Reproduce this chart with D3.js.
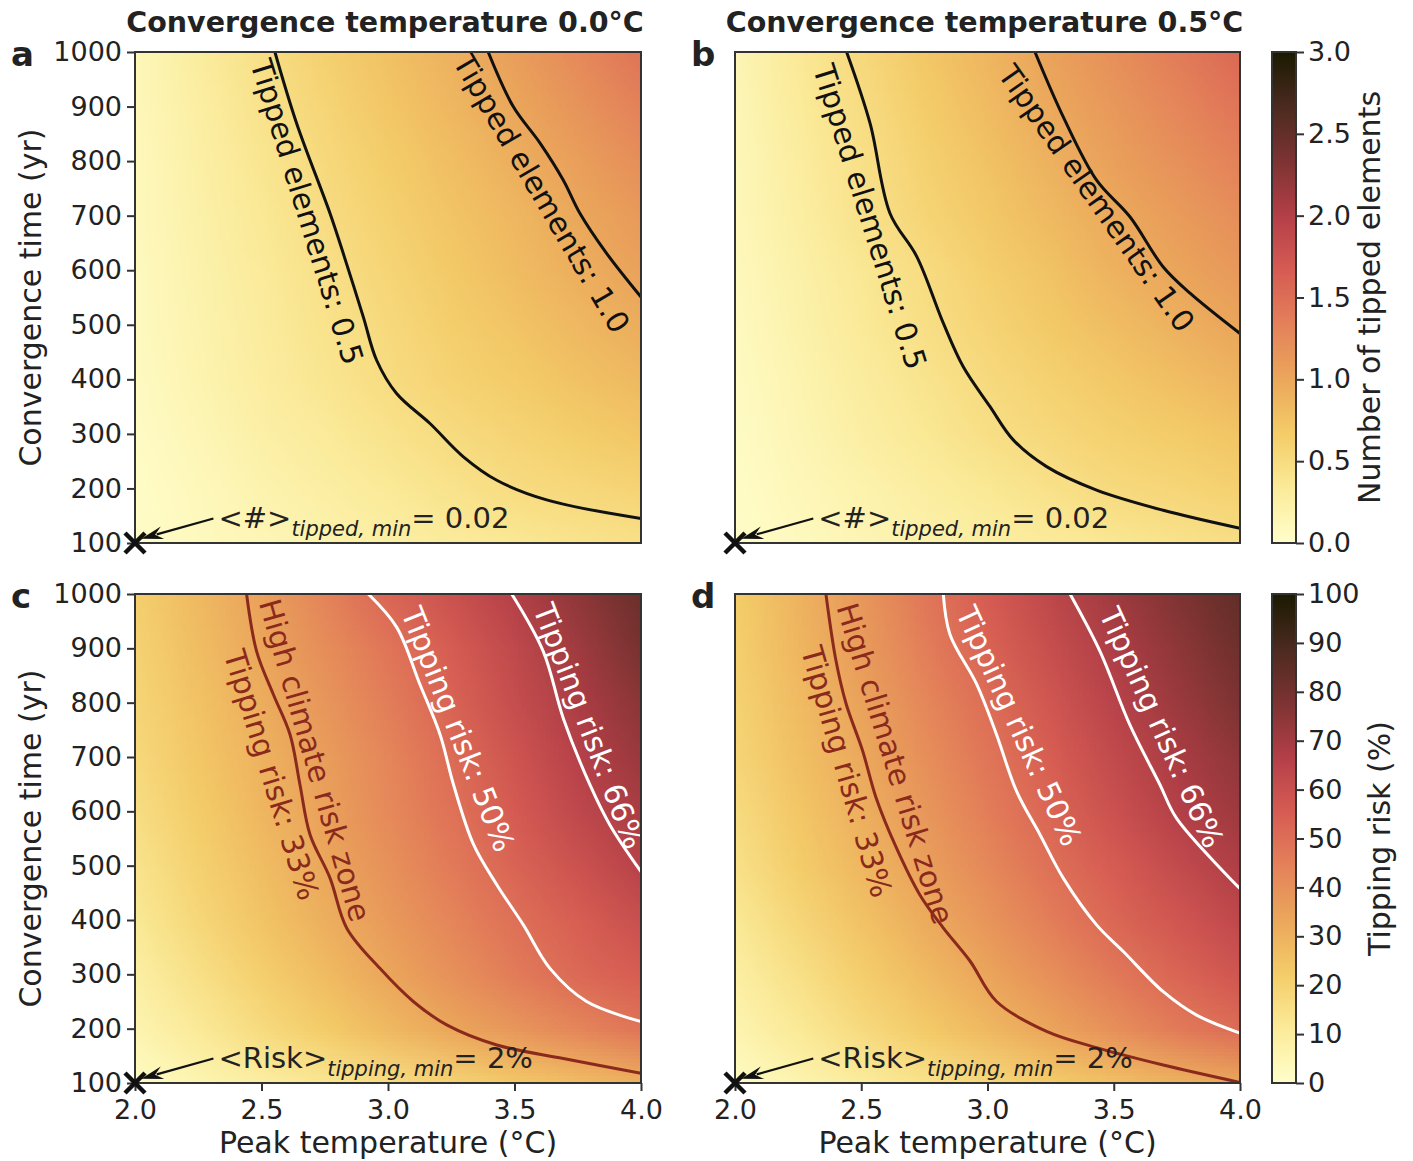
<!DOCTYPE html>
<html>
<head>
<meta charset="utf-8">
<script src="https://cdn.jsdelivr.net/npm/d3@7"></script>
<style>
  body { margin: 0; background: #fff; }
  text { font-family: "DejaVu Sans", sans-serif; }
</style>
</head>
<body>
<div id="main-chart"></div>
<script>
// ---- data ----
var temps = [2.0, 2.25, 2.5, 2.75, 3.0, 3.25, 3.5, 3.75, 4.0];
var times = [100, 200, 300, 400, 500, 600, 700, 800, 900, 1000];
var xTicks = [2.0, 2.5, 3.0, 3.5, 4.0];
var yTicks = [100, 200, 300, 400, 500, 600, 700, 800, 900, 1000];
var tippedTicks = [0, 0.5, 1.0, 1.5, 2.0, 2.5, 3.0];
var riskTicks = [0, 10, 20, 30, 40, 50, 60, 70, 80, 90, 100];

// rows = times (100 -> 1000), columns = temps
var tippedA = [
  [0.02, 0.08, 0.14, 0.20, 0.26, 0.31, 0.36, 0.41, 0.45],
  [0.035, 0.11, 0.19, 0.27, 0.34, 0.42, 0.50, 0.54, 0.58],
  [0.05, 0.14, 0.24, 0.33, 0.42, 0.51, 0.58, 0.65, 0.72],
  [0.07, 0.18, 0.29, 0.39, 0.50, 0.59, 0.67, 0.76, 0.84],
  [0.08, 0.19, 0.31, 0.42, 0.53, 0.64, 0.74, 0.85, 0.95],
  [0.09, 0.21, 0.33, 0.45, 0.57, 0.69, 0.81, 0.93, 1.04],
  [0.10, 0.23, 0.36, 0.49, 0.61, 0.74, 0.86, 0.99, 1.11],
  [0.11, 0.25, 0.39, 0.53, 0.66, 0.79, 0.93, 1.07, 1.22],
  [0.12, 0.27, 0.43, 0.57, 0.72, 0.86, 1.00, 1.17, 1.33],
  [0.13, 0.30, 0.46, 0.62, 0.77, 0.91, 1.08, 1.26, 1.45]
];
var tippedB = [
  [0.02, 0.08, 0.15, 0.21, 0.27, 0.32, 0.37, 0.42, 0.47],
  [0.035, 0.12, 0.20, 0.28, 0.36, 0.44, 0.52, 0.56, 0.61],
  [0.05, 0.15, 0.26, 0.36, 0.46, 0.54, 0.61, 0.67, 0.74],
  [0.07, 0.18, 0.30, 0.41, 0.52, 0.61, 0.70, 0.79, 0.88],
  [0.09, 0.21, 0.34, 0.46, 0.58, 0.69, 0.80, 0.91, 1.02],
  [0.10, 0.23, 0.37, 0.50, 0.63, 0.76, 0.90, 1.02, 1.12],
  [0.12, 0.27, 0.43, 0.57, 0.70, 0.84, 0.97, 1.10, 1.22],
  [0.13, 0.29, 0.45, 0.61, 0.76, 0.91, 1.06, 1.19, 1.33],
  [0.14, 0.32, 0.49, 0.66, 0.82, 0.98, 1.13, 1.29, 1.44],
  [0.15, 0.35, 0.54, 0.71, 0.87, 1.04, 1.21, 1.38, 1.55]
];
var riskC = [
  [2, 5.5, 9, 12.5, 16, 19.5, 23, 26.5, 30],
  [6, 11.4, 16.9, 22.3, 27.8, 33.2, 38.1, 43, 48],
  [9, 15.1, 21.2, 27.4, 33.5, 39.8, 46, 51.5, 55],
  [12, 18.3, 24.7, 31, 37.2, 43.4, 49.5, 54.8, 60],
  [14, 20.4, 26.8, 33.3, 39.9, 46.4, 52.9, 59.2, 65.5],
  [16, 22.3, 28.7, 35.2, 42, 48.8, 55.9, 63.1, 68.5],
  [18, 24, 29.9, 36.4, 43.4, 50.5, 58.2, 65.8, 72],
  [19, 25.3, 31.5, 38.5, 45.7, 53.1, 60.8, 68.2, 75],
  [20, 26.8, 33.6, 40.8, 48, 55.3, 62.7, 70.7, 79],
  [21, 27.8, 35.1, 43.9, 52.2, 59.3, 66.3, 74.2, 82]
];
var riskD = [
  [2, 6, 10, 14, 18, 22, 25.5, 29.5, 33],
  [6, 11.5, 17.1, 22.6, 28.1, 33.8, 40, 46.3, 50.5],
  [9, 15.2, 21.4, 27.6, 33.8, 40.3, 46.9, 52.6, 57.5],
  [12, 18.6, 25.1, 31.7, 38.6, 45.5, 52, 57.5, 63],
  [15, 21.7, 28.4, 35.3, 42.3, 49.4, 55.7, 61.8, 67.5],
  [17, 23.9, 30.8, 38.1, 45.5, 52.7, 59.5, 66.2, 71],
  [19, 25.9, 32.7, 40.3, 47.9, 55.1, 62.3, 68.6, 74],
  [20, 27.4, 34.9, 42.6, 50.3, 57.7, 65.1, 71.6, 78],
  [21, 28.7, 36.7, 45.2, 53.2, 60.5, 67.6, 74.3, 81],
  [22, 29.6, 38.1, 47.3, 55.6, 63.5, 70.6, 77.3, 84]
];

// contour lines [peak temperature, convergence time]
var lineA05 = [[2.553,1000],[2.639,869],[2.771,704],[2.823,631],[2.902,515],[2.955,435],[3.034,374],[3.166,319],[3.298,258],[3.43,215],[3.627,179],[4.0,145]];
var lineA10 = [[3.396,1000],[3.495,900],[3.601,833],[3.693,765],[3.759,704],[3.864,631],[4.0,551]];
var lineB05 = [[2.442,1000],[2.535,869],[2.614,704],[2.72,625],[2.825,503],[2.904,423],[3.01,350],[3.102,289],[3.234,240],[3.432,197],[3.696,160],[4.0,127]];
var lineB10 = [[3.188,1000],[3.30,881],[3.432,765],[3.564,698],[3.696,606],[3.802,558],[4.0,484]];
var lineC33 = [[2.441,1000],[2.481,894],[2.547,815],[2.613,741],[2.652,649],[2.692,557],[2.771,477],[2.837,385],[2.968,311],[3.1,250],[3.232,207],[3.43,170],[3.693,145],[4.0,118]];
var lineC50 = [[2.922,1000],[3.034,939],[3.126,834],[3.206,741],[3.259,649],[3.338,539],[3.43,465],[3.535,391],[3.64,311],[3.785,250],[4.0,213]];
var lineC66 = [[3.489,1000],[3.614,894],[3.693,771],[3.798,649],[3.877,575],[4.0,489]];
var lineD33 = [[2.36,1000],[2.40,877],[2.44,798],[2.505,712],[2.558,626],[2.638,534],[2.73,448],[2.824,386],[2.93,325],[3.036,250],[3.234,195],[3.432,165],[3.696,133],[4.0,101]];
var lineD50 = [[2.825,1000],[2.851,926],[2.957,834],[3.036,741],[3.115,637],[3.208,557],[3.3,477],[3.432,391],[3.538,342],[3.696,268],[3.828,225],[4.0,192]];
var lineD66 = [[3.327,1000],[3.446,894],[3.564,759],[3.683,649],[3.749,587],[4.0,458]];

var minPoint = [2.0, 100];

// ---- style ----
var lajolla = ["#fffecb", "#fbeb99", "#f4cc68", "#eba75b", "#e4815a",
               "#d65b53", "#b33f48", "#7d3332", "#4b2a1f", "#1a1a01"];
var riskLine = "#8b2a1c";
var axisCol = "#333";

var W = 1413, H = 1161;
var svg = d3.select("#main-chart").append("svg")
  .attr("width", W).attr("height", H)
  .style("background", "#fff");
var defs = svg.append("defs");

var cols = [[135, 641], [735, 1240]];
var rows = [[52, 543], [594, 1083]];

function cmap(domain) {
  return d3.scaleLinear()
    .domain(d3.range(lajolla.length).map(function(i) { return domain[0] + (domain[1] - domain[0]) * i / (lajolla.length - 1); }))
    .range(lajolla)
    .interpolate(d3.interpolateRgb)
    .clamp(true);
}

function heatImage(grid, color) {
  var cv = document.createElement("canvas");
  cv.width = temps.length;
  cv.height = times.length;
  var ctx = cv.getContext("2d");
  var img = ctx.createImageData(cv.width, cv.height);
  for (var j = 0; j < times.length; j++) {
    for (var i = 0; i < temps.length; i++) {
      var c = d3.rgb(color(grid[times.length - 1 - j][i]));
      var k = (j * cv.width + i) * 4;
      img.data[k] = c.r; img.data[k + 1] = c.g; img.data[k + 2] = c.b; img.data[k + 3] = 255;
    }
  }
  ctx.putImageData(img, 0, 0);
  return cv.toDataURL();
}

var panels = [
  { id: "a", col: 0, row: 0, grid: tippedA, domain: [0, 3], yAxis: true, xAxis: false,
    title: "Convergence temperature 0.0\u00b0C",
    lines: [{ pts: lineA05, color: "#111" }, { pts: lineA10, color: "#111" }],
    labels: [
      { text: "Tipped elements: 0.5", at: [2.680, 707], angle: 72.8, color: "#111" },
      { text: "Tipped elements: 1.0", at: [3.607, 741], angle: 59.6, color: "#111" }
    ],
    note: ["<#>", "tipped, min", "= 0.02"] },
  { id: "b", col: 1, row: 0, grid: tippedB, domain: [0, 3], yAxis: false, xAxis: false,
    title: "Convergence temperature 0.5\u00b0C",
    lines: [{ pts: lineB05, color: "#111" }, { pts: lineB10, color: "#111" }],
    labels: [
      { text: "Tipped elements: 0.5", at: [2.535, 698], angle: 72.7, color: "#111" },
      { text: "Tipped elements: 1.0", at: [3.432, 732], angle: 55, color: "#111" }
    ],
    note: ["<#>", "tipped, min", "= 0.02"] },
  { id: "c", col: 0, row: 1, grid: riskC, domain: [0, 100], yAxis: true, xAxis: true,
    lines: [{ pts: lineC33, color: riskLine }, { pts: lineC50, color: "#fff" }, { pts: lineC66, color: "#fff" }],
    labels: [
      { text: "High climate risk zone", at: [2.711, 694], angle: 74, color: riskLine },
      { text: "Tipping risk: 33%", at: [2.540, 667], angle: 73, color: riskLine },
      { text: "Tipping risk: 50%", at: [3.277, 751], angle: 68.5, color: "#fff" },
      { text: "Tipping risk: 66%", at: [3.795, 757], angle: 69, color: "#fff" }
    ],
    note: ["<Risk>", "tipping, min", "= 2%"] },
  { id: "d", col: 1, row: 1, grid: riskD, domain: [0, 100], yAxis: false, xAxis: true,
    lines: [{ pts: lineD33, color: riskLine }, { pts: lineD50, color: "#fff" }, { pts: lineD66, color: "#fff" }],
    labels: [
      { text: "High climate risk zone", at: [2.634, 688], angle: 73, color: riskLine },
      { text: "Tipping risk: 33%", at: [2.442, 673], angle: 74, color: riskLine },
      { text: "Tipping risk: 50%", at: [3.125, 757], angle: 65.4, color: "#fff" },
      { text: "Tipping risk: 66%", at: [3.69, 754], angle: 65.7, color: "#fff" }
    ],
    note: ["<Risk>", "tipping, min", "= 2%"] }
];

panels.forEach(function(p) {
  var cx = cols[p.col], ry = rows[p.row];
  var x = d3.scaleLinear().domain([2.0, 4.0]).range(cx);
  var y = d3.scaleLinear().domain([100, 1000]).range([ry[1], ry[0]]);
  var color = cmap(p.domain);
  var g = svg.append("g").attr("class", "panel-" + p.id);

  defs.append("clipPath").attr("id", "clip-" + p.id)
    .append("rect")
    .attr("x", cx[0]).attr("y", ry[0])
    .attr("width", cx[1] - cx[0]).attr("height", ry[1] - ry[0]);

  var body = g.append("g").attr("clip-path", "url(#clip-" + p.id + ")");

  // heat map, one image pixel per grid value, pixel centres on the grid points
  var dT = temps[1] - temps[0], dt = times[1] - times[0];
  var ix0 = x(temps[0] - dT / 2), ix1 = x(temps[temps.length - 1] + dT / 2);
  var iy0 = y(times[times.length - 1] + dt / 2), iy1 = y(times[0] - dt / 2);
  body.append("image")
    .attr("href", heatImage(p.grid, color))
    .attr("x", ix0).attr("y", iy0)
    .attr("width", ix1 - ix0).attr("height", iy1 - iy0)
    .attr("preserveAspectRatio", "none");

  var line = d3.line()
    .x(function(d) { return x(d[0]); })
    .y(function(d) { return y(d[1]); })
    .curve(d3.curveCatmullRom.alpha(0.5));

  body.selectAll("path.contour")
    .data(p.lines)
    .enter()
    .append("path")
    .attr("class", "contour")
    .attr("d", function(d) { return line(d.pts); })
    .attr("fill", "none")
    .attr("stroke", function(d) { return d.color; })
    .attr("stroke-width", 3);

  body.selectAll("text.clabel")
    .data(p.labels)
    .enter()
    .append("text")
    .attr("class", "clabel")
    .attr("transform", function(d) { return "translate(" + x(d.at[0]) + "," + y(d.at[1]) + ") rotate(" + d.angle + ")"; })
    .attr("text-anchor", "middle")
    .attr("dominant-baseline", "central")
    .attr("font-size", 30)
    .attr("fill", function(d) { return d.color; })
    .text(function(d) { return d.text; });

  // frame
  g.append("rect")
    .attr("x", cx[0]).attr("y", ry[0])
    .attr("width", cx[1] - cx[0]).attr("height", ry[1] - ry[0])
    .attr("fill", "none").attr("stroke", axisCol).attr("stroke-width", 2);

  if (p.yAxis) {
    var ya = g.append("g")
      .attr("transform", "translate(" + cx[0] + ",0)")
      .call(d3.axisLeft(y).tickValues(yTicks).tickFormat(d3.format("d")).tickSize(8).tickPadding(5));
    ya.select(".domain").remove();
    ya.selectAll("line").attr("stroke", axisCol).attr("stroke-width", 2);
    ya.selectAll("text").attr("font-size", 27).attr("fill", "#222")
      .attr("font-family", "DejaVu Sans");
    g.append("text")
      .attr("transform", "translate(41," + (ry[0] + ry[1]) / 2 + ") rotate(-90)")
      .attr("text-anchor", "middle")
      .attr("font-size", 30).attr("fill", "#222")
      .text("Convergence time (yr)");
  }
  if (p.xAxis) {
    var xa = g.append("g")
      .attr("transform", "translate(0," + ry[1] + ")")
      .call(d3.axisBottom(x).tickValues(xTicks).tickFormat(d3.format(".1f")).tickSize(8).tickPadding(9));
    xa.select(".domain").remove();
    xa.selectAll("line").attr("stroke", axisCol).attr("stroke-width", 2);
    xa.selectAll("text").attr("font-size", 27).attr("fill", "#222")
      .attr("font-family", "DejaVu Sans");
    g.append("text")
      .attr("x", (cx[0] + cx[1]) / 2).attr("y", 1153)
      .attr("text-anchor", "middle")
      .attr("font-size", 30).attr("fill", "#222")
      .text("Peak temperature (\u00b0C)");
  }

  if (p.title) {
    g.append("text")
      .attr("x", (cx[0] + cx[1]) / 2 - 3).attr("y", 32)
      .attr("text-anchor", "middle")
      .attr("font-size", 28.5).attr("font-weight", "bold").attr("fill", "#222")
      .text(p.title);
  }

  g.append("text")
    .attr("x", cx[0] - (p.col ? 44 : 124)).attr("y", ry[0] + 14)
    .attr("font-size", 34).attr("font-weight", "bold").attr("fill", "#222")
    .text(p.id);

  // minimum marker, arrow and note
  var mx = x(minPoint[0]), my = y(minPoint[1]);
  g.append("path")
    .attr("d", "M" + (mx - 10) + "," + (my - 10) + "L" + (mx + 10) + "," + (my + 10) +
               "M" + (mx - 10) + "," + (my + 10) + "L" + (mx + 10) + "," + (my - 10))
    .attr("stroke", "#111").attr("stroke-width", 4.5);

  var tail = [x(2.31), y(145)], head = [x(2.025), y(108)];
  var ang = Math.atan2(head[1] - tail[1], head[0] - tail[0]);
  var hl = 22, hw = 6.5;
  var bx = head[0] - hl * Math.cos(ang), by = head[1] - hl * Math.sin(ang);
  g.append("line")
    .attr("x1", tail[0]).attr("y1", tail[1]).attr("x2", bx + 6 * Math.cos(ang)).attr("y2", by + 6 * Math.sin(ang))
    .attr("stroke", "#111").attr("stroke-width", 2.2);
  g.append("path")
    .attr("d", "M" + head[0] + "," + head[1] +
      "L" + (bx + hw * Math.sin(ang)) + "," + (by - hw * Math.cos(ang)) +
      "L" + (bx + 0.35 * hl * Math.cos(ang)) + "," + (by + 0.35 * hl * Math.sin(ang)) +
      "L" + (bx - hw * Math.sin(ang)) + "," + (by + hw * Math.cos(ang)) + "Z")
    .attr("fill", "#111");

  var note = g.append("text")
    .attr("x", x(2.33)).attr("y", y(128))
    .attr("font-size", 29).attr("fill", "#222");
  note.append("tspan").text(p.note[0]);
  note.append("tspan").attr("font-size", 21).attr("font-style", "italic").attr("dy", 8).text(p.note[1]);
  note.append("tspan").attr("dy", -8).text(p.note[2]);
});

// colour bars
var bars = [
  { row: 0, domain: [0, 3], ticks: tippedTicks, fmt: d3.format(".1f"), label: "Number of tipped elements", lx: 1380 },
  { row: 1, domain: [0, 100], ticks: riskTicks, fmt: d3.format("d"), label: "Tipping risk (%)", lx: 1390 }
];
var cbx = [1272, 1296];
bars.forEach(function(b, i) {
  var ry = rows[b.row];
  var s = d3.scaleLinear().domain(b.domain).range([ry[1], ry[0]]);
  var grad = defs.append("linearGradient").attr("id", "cb" + i)
    .attr("x1", 0).attr("y1", 1).attr("x2", 0).attr("y2", 0);
  grad.selectAll("stop").data(lajolla).enter().append("stop")
    .attr("offset", function(d, k) { return k / (lajolla.length - 1); })
    .attr("stop-color", function(d) { return d; });
  svg.append("rect")
    .attr("x", cbx[0]).attr("y", ry[0])
    .attr("width", cbx[1] - cbx[0]).attr("height", ry[1] - ry[0])
    .attr("fill", "url(#cb" + i + ")")
    .attr("stroke", axisCol).attr("stroke-width", 2);
  var ax = svg.append("g")
    .attr("transform", "translate(" + cbx[1] + ",0)")
    .call(d3.axisRight(s).tickValues(b.ticks).tickFormat(b.fmt).tickSize(8).tickPadding(4));
  ax.select(".domain").remove();
  ax.selectAll("line").attr("stroke", axisCol).attr("stroke-width", 2);
  ax.selectAll("text").attr("font-size", 27).attr("fill", "#222").attr("font-family", "DejaVu Sans");
  svg.append("text")
    .attr("transform", "translate(" + b.lx + "," + (ry[0] + ry[1]) / 2 + ") rotate(-90)")
    .attr("text-anchor", "middle")
    .attr("font-size", 30).attr("fill", "#222")
    .text(b.label);
});
</script>
</body>
</html>
